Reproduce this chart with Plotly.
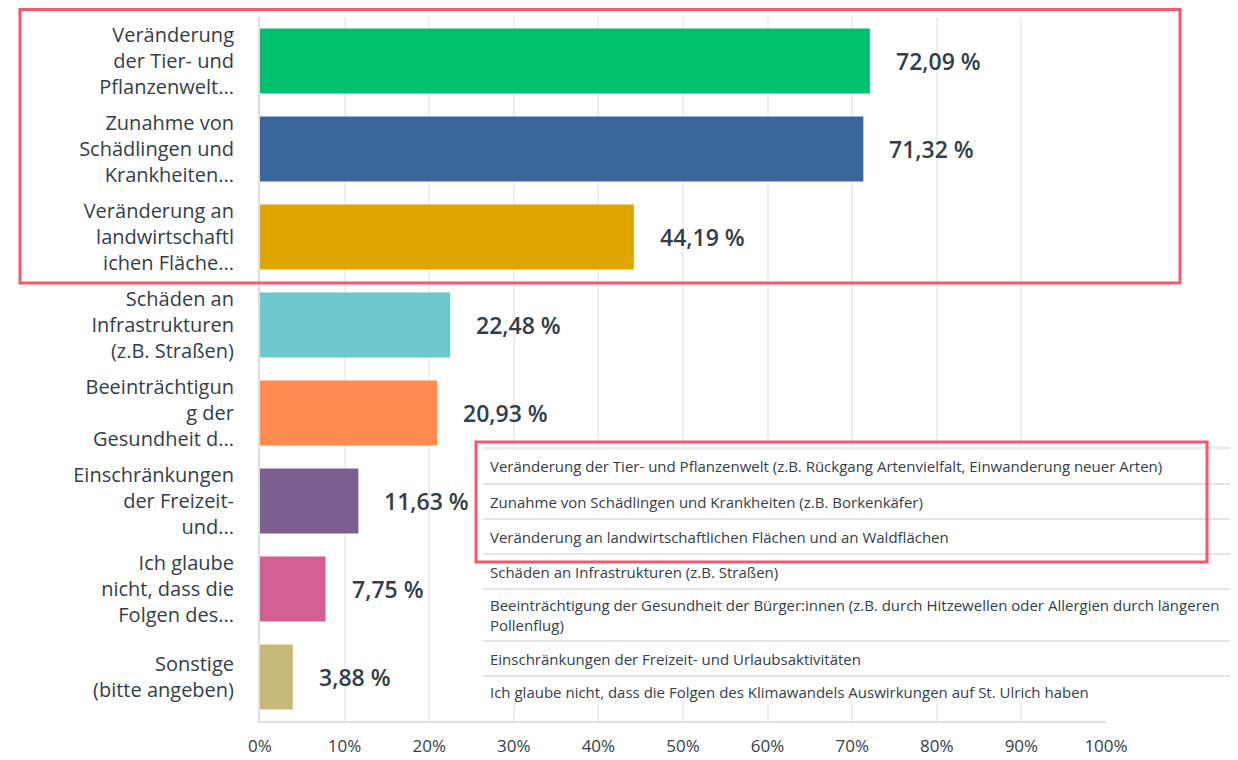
import plotly.graph_objects as go

# ---- data ----
categories = [
    "Veränderung<br>der Tier- und<br>Pflanzenwelt...",
    "Zunahme von<br>Schädlingen und<br>Krankheiten...",
    "Veränderung an<br>landwirtschaftl<br>ichen Fläche...",
    "Schäden an<br>Infrastrukturen<br>(z.B. Straßen)",
    "Beeinträchtigun<br>g der<br>Gesundheit d...",
    "Einschränkungen<br>der Freizeit-<br>und...",
    "Ich glaube<br>nicht, dass die<br>Folgen des...",
    "Sonstige<br>(bitte angeben)",
]
values = [72.09, 71.32, 44.19, 22.48, 20.93, 11.63, 7.75, 3.88]
value_labels = ["72,09 %", "71,32 %", "44,19 %", "22,48 %", "20,93 %", "11,63 %", "7,75 %", "3,88 %"]
bar_colors = ["#00BF6F", "#3A669C", "#DFA600", "#6CC8CD", "#FF8B4F", "#7D5E90", "#D25F90", "#C7B879"]
x_ticks = [0, 10, 20, 30, 40, 50, 60, 70, 80, 90, 100]
x_tick_labels = ["0%", "10%", "20%", "30%", "40%", "50%", "60%", "70%", "80%", "90%", "100%"]

legend_labels = [
    "Veränderung der Tier- und Pflanzenwelt (z.B. Rückgang Artenvielfalt, Einwanderung neuer Arten)",
    "Zunahme von Schädlingen und Krankheiten (z.B. Borkenkäfer)",
    "Veränderung an landwirtschaftlichen Flächen und an Waldflächen",
    "Schäden an Infrastrukturen (z.B. Straßen)",
    "Beeinträchtigung der Gesundheit der Bürger:innen (z.B. durch Hitzewellen oder Allergien durch längeren<br>Pollenflug)",
    "Einschränkungen der Freizeit- und Urlaubsaktivitäten",
    "Ich glaube nicht, dass die Folgen des Klimawandels Auswirkungen auf St. Ulrich haben",
]

# ---- layout geometry (page pixels; the page body has an 8px margin) ----
OFF = 8
W, H = 1238 - OFF, 760 - OFF
PL, PR, PT, PB = 260 - OFF, 1106 - OFF, 17 - OFF, 721 - OFF
TEXT = "#333e48"
FONT = "Open Sans"


def px(x):
    return (x - OFF - PL) / (PR - PL)


def py(y):
    return (PB - (y - OFF)) / (PB - PT)


fig = go.Figure()
fig.add_trace(go.Bar(
    x=values, y=categories, orientation="h",
    marker=dict(color=bar_colors, line=dict(width=0)),
    hoverinfo="skip", showlegend=False,
))

annotations = []
for c, v, t in zip(categories, values, value_labels):
    annotations.append(dict(
        x=v, y=c, xref="x", yref="y", text=t, showarrow=False,
        xanchor="left", yanchor="middle", xshift=24,
        font=dict(family=FONT, size=23, color=TEXT, weight=600),
    ))

shapes = []
# table overlay
tbl_x0, tbl_x1, tbl_y0, tbl_y1 = 483, 1240, 446, 704
shapes.append(dict(type="rect", xref="paper", yref="paper",
                   x0=px(tbl_x0), x1=px(tbl_x1), y0=py(tbl_y1), y1=py(tbl_y0),
                   fillcolor="white", line=dict(width=0), layer="above"))
shapes.append(dict(type="line", xref="paper", yref="paper",
                   x0=px(tbl_x0), x1=px(tbl_x1), y0=py(448), y1=py(448),
                   line=dict(color="#ececec", width=3), layer="above"))
row_tops = [449, 484, 519, 554, 589, 641, 676]
row_bottoms = [484, 519, 554, 589, 641, 676, 708]
for i, (lab, top, bot) in enumerate(zip(legend_labels, row_tops, row_bottoms)):
    if i > 0:
        shapes.append(dict(type="line", xref="paper", yref="paper",
                           x0=px(tbl_x0), x1=px(tbl_x1), y0=py(top), y1=py(top),
                           line=dict(color="#dcdcdc", width=1.5), layer="above"))
    annotations.append(dict(
        x=px(488), y=py((top + bot) / 2), xref="paper", yref="paper",
        text=lab, showarrow=False, xanchor="left", yanchor="middle", align="left",
        font=dict(family=FONT, size=15, color=TEXT),
    ))

# red highlight rectangles
RED = "#F5576C"
shapes.append(dict(type="rect", xref="paper", yref="paper",
                   x0=px(20), x1=px(1180), y0=py(283), y1=py(9.5),
                   line=dict(color=RED, width=3), fillcolor="rgba(0,0,0,0)", layer="above"))
shapes.append(dict(type="rect", xref="paper", yref="paper",
                   x0=px(476), x1=px(1207), y0=py(562), y1=py(442),
                   line=dict(color=RED, width=3), fillcolor="rgba(0,0,0,0)", layer="above"))

fig.update_layout(
    width=W, height=H,
    margin=dict(l=PL, r=W - PR, t=PT, b=H - PB, pad=0, autoexpand=False),
    paper_bgcolor="white", plot_bgcolor="white",
    bargap=0.26,
    font=dict(family=FONT, color=TEXT),
    xaxis=dict(
        range=[0, 100], tickvals=x_ticks, ticktext=x_tick_labels,
        showgrid=True, gridcolor="#eeeeee", gridwidth=1.5,
        zeroline=False, showline=True, linecolor="#e0e0e0", linewidth=2,
        ticks="", ticklabelstandoff=9, automargin=False,
        tickfont=dict(family=FONT, size=17, color=TEXT),
        fixedrange=True,
    ),
    yaxis=dict(
        autorange="reversed", showgrid=False, zeroline=False,
        showline=True, linecolor="#e0e0e0", linewidth=2,
        ticks="", ticklabelstandoff=20, automargin=False,
        tickfont=dict(family=FONT, size=20, color=TEXT),
        fixedrange=True,
    ),
    shapes=shapes,
    annotations=annotations,
)

fig.write_html("out.html")
